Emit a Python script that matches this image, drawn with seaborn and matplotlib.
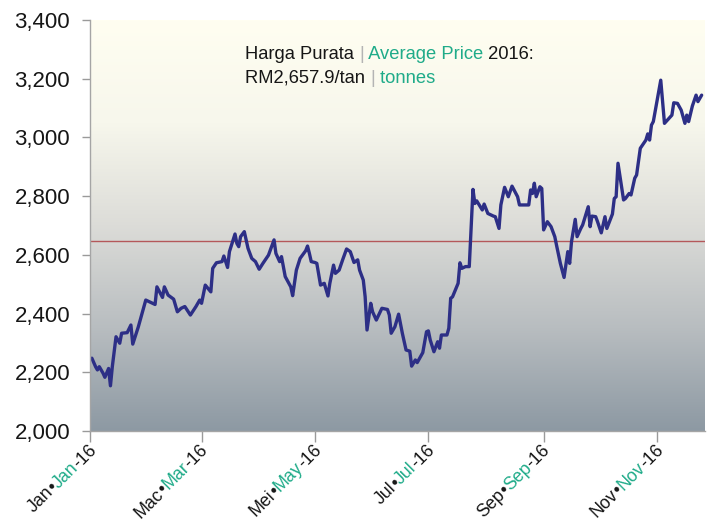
import numpy as np
import pandas as pd
import matplotlib
matplotlib.use("Agg")
import matplotlib.pyplot as plt
import matplotlib.dates as mdates
import seaborn as sns
from matplotlib.colors import LinearSegmentedColormap
from matplotlib.transforms import offset_copy, blended_transform_factory

# ---------------- data ----------------
day_offset = [1, 3, 4, 5, 7, 8, 10, 11, 12, 14, 16, 17, 20, 22, 23, 26, 28, 30, 32, 35,
              36, 39, 40, 42, 45, 47, 49, 51, 54, 57, 59, 60, 62, 65, 66, 68, 71, 72, 74, 75,
              78, 79, 80, 81, 83, 85, 87, 89, 91, 93, 96, 99, 100, 102, 103, 105, 108, 109, 111, 113,
              116, 117, 118, 119, 121, 122, 124, 126, 128, 129, 131, 132, 134, 136, 138, 140, 142, 144, 145, 147,
              148, 149, 151, 152, 154, 157, 160, 161, 162, 164, 166, 168, 170, 172, 173, 175, 176, 179, 181, 182,
              183, 185, 187, 188, 189, 192, 193, 194, 195, 198, 199, 200, 202, 204, 206, 207, 208, 211, 212, 214,
              217, 218, 220, 221, 223, 225, 227, 230, 231, 236, 237, 238, 239, 240, 242, 243, 244, 246, 248, 250,
              251, 253, 255, 257, 258, 259, 261, 262, 264, 265, 268, 269, 270, 272, 273, 275, 277, 278, 281, 282,
              283, 284, 287, 288, 290, 291, 293, 294, 296, 299, 300, 301, 302, 303, 307, 309, 313, 314, 316, 318,
              320, 321, 322, 324, 326, 327, 329]
price = [2248, 2219, 2208, 2219, 2197, 2183, 2213, 2154, 2219, 2321, 2299, 2333, 2335, 2361, 2296, 2355, 2401, 2446, 2440, 2431,
         2491, 2455, 2491, 2463, 2449, 2406, 2418, 2424, 2395, 2424, 2446, 2435, 2497, 2474, 2554, 2573, 2577, 2596, 2557, 2611,
         2671, 2639, 2628, 2662, 2679, 2622, 2588, 2577, 2551, 2571, 2599, 2651, 2605, 2577, 2594, 2526, 2491, 2461, 2548, 2588,
         2614, 2630, 2605, 2577, 2574, 2571, 2497, 2503, 2460, 2503, 2565, 2537, 2548, 2585, 2620, 2611, 2574, 2583, 2548, 2514,
         2457, 2344, 2435, 2406, 2378, 2418, 2414, 2395, 2333, 2355, 2398, 2333, 2276, 2272, 2221, 2242, 2233, 2267, 2338, 2341,
         2310, 2270, 2304, 2282, 2327, 2327, 2350, 2452, 2457, 2503, 2573, 2554, 2560, 2560, 2823, 2775, 2784, 2753, 2773, 2741,
         2732, 2730, 2690, 2770, 2830, 2798, 2834, 2798, 2770, 2770, 2821, 2809, 2844, 2798, 2832, 2826, 2685, 2713, 2696, 2662,
         2631, 2571, 2523, 2611, 2571, 2645, 2721, 2662, 2690, 2702, 2764, 2696, 2732, 2730, 2713, 2675, 2730, 2690, 2739, 2792,
         2798, 2912, 2787, 2792, 2809, 2804, 2861, 2872, 2963, 2991, 3012, 2991, 3042, 3054, 3195, 3048, 3076, 3118, 3116, 3093,
         3048, 3076, 3054, 3107, 3144, 3122, 3144]
avg_line = 2648
y_ticks = [2000, 2200, 2400, 2600, 2800, 3000, 3200, 3400]
month_ticks = ["2016-01-01", "2016-03-01", "2016-05-01", "2016-07-01", "2016-09-01", "2016-11-01"]
month_ms = ["Jan", "Mac", "Mei", "Jul", "Sep", "Nov"]
month_en = ["Jan", "Mar", "May", "Jul", "Sep", "Nov"]
year_suffix = "-16"
note_line1 = [("Harga Purata ", "k"), ("|", "g"), (" Average Price", "e"), (" 2016:", "k")]
note_line2 = [("RM2,657.9/tan ", "k"), ("|", "g"), (" tonnes", "e")]

# ---------------- style ----------------
BLACK = "#161616"
GREEN = "#1fab89"
GRAY = "#b4b4b4"
LINE = "#2d2f86"
cmap_col = {"k": BLACK, "g": GRAY, "e": GREEN}

sns.set_theme(style="white")
plt.rcParams["font.family"] = ["Liberation Sans", "DejaVu Sans"]

W, H = 707, 527
fig = plt.figure(figsize=(W / 100, H / 100), dpi=100)
rect = [90 / W, 96 / H, 615 / W, 411 / H]

# gradient background
bg = fig.add_axes(rect, zorder=0)
grad_cmap = LinearSegmentedColormap.from_list(
    "bg", [(0.0, "#8d99a3"), (0.25, "#b8bdc0"), (0.5, "#dcdcd8"), (0.75, "#f7f7ec"), (1.0, "#fffef1")])
grad = np.linspace(0, 1, 256).reshape(-1, 1)
bg.imshow(grad, cmap=grad_cmap, aspect="auto", origin="lower", extent=[0, 1, 0, 1])
bg.set_axis_off()

ax = fig.add_axes(rect, zorder=1)
ax.patch.set_alpha(0)

dates = pd.Timestamp("2016-01-01") + pd.to_timedelta(day_offset, unit="D")
df = pd.DataFrame({"date": dates, "price": price})

ax.axhline(avg_line, color="#b4585a", lw=1.0, zorder=1)
sns.lineplot(data=df, x="date", y="price", ax=ax, color=LINE, linewidth=2.4,
             estimator=None, sort=False, zorder=2)

ax.set_ylim(2000, 3400)
ax.set_xlim(pd.Timestamp("2016-01-01"), pd.Timestamp("2016-01-01") + pd.Timedelta(days=330.8))
ax.set_xlabel("")
ax.set_ylabel("")
ax.set_yticks(y_ticks)
ax.set_yticklabels([f"{v:,}" for v in y_ticks])
tick_dates = pd.to_datetime(month_ticks)
ax.set_xticks(tick_dates)
ax.set_xticklabels([])
ax.tick_params(axis="y", left=True, length=6, width=1, color="#9a9a9a", pad=8.4,
               labelsize=16, labelcolor=BLACK)
ax.tick_params(axis="x", bottom=True, length=8, width=1, color="#9a9a9a")
for s in ["top", "right"]:
    ax.spines[s].set_visible(False)
for s in ["left", "bottom"]:
    ax.spines[s].set_color("#a5a5a5")
    ax.spines[s].set_linewidth(1.0)

renderer = fig.canvas.get_renderer()


def text_w(s, size):
    t = fig.text(0, 0, s, fontsize=size)
    w = t.get_window_extent(renderer).width
    t.remove()
    return w * 72.0 / fig.dpi


def prefix_w(s, size):
    return text_w(s + "x", size) - text_w("x", size)


# rich horizontal note
NOTE_FS = 13.2
for line, ypos in [(note_line1, 0.905), (note_line2, 0.847)]:
    acc = ""
    for txt, c in line:
        dx = prefix_w(acc, NOTE_FS)
        tr = offset_copy(ax.transAxes, fig=fig, x=dx, y=0, units="points")
        ax.text(0.252, ypos, txt, transform=tr, fontsize=NOTE_FS, color=cmap_col[c],
                ha="left", va="baseline")
        acc += txt

# rich rotated x labels
XL_FS = 12.8
ang = np.deg2rad(45)
cx, cy = np.cos(ang), np.sin(ang)
btrans = blended_transform_factory(ax.transData, ax.transAxes)
for d, ms, en in zip(tick_dates, month_ms, month_en):
    pieces = [(ms, BLACK), ("\u2022", BLACK), (en, GREEN), (year_suffix, BLACK)]
    full = "".join(p[0] for p in pieces)
    total = prefix_w(full, XL_FS)
    ex, ey = 5.0, -14.0   # end point (baseline) offset in points
    sx, sy = ex - total * cx, ey - total * cy
    acc = ""
    xnum = mdates.date2num(d)
    for txt, col in pieces:
        p = prefix_w(acc, XL_FS)
        tr = offset_copy(btrans, fig=fig, x=sx + p * cx, y=sy + p * cy, units="points")
        ax.text(xnum, 0, txt, transform=tr, fontsize=XL_FS, color=col, rotation=45,
                rotation_mode="anchor", ha="left", va="baseline", clip_on=False)
        acc += txt

fig.savefig("out.png", dpi=100)
